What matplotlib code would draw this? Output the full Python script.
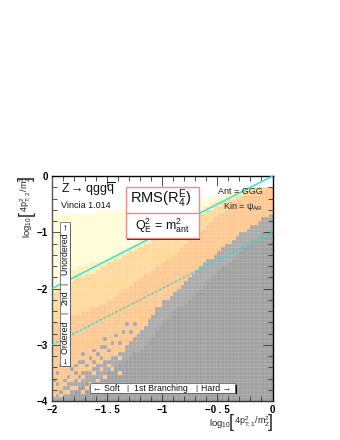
import matplotlib
matplotlib.use('Agg')
import matplotlib.pyplot as plt
from matplotlib.colors import ListedColormap
from matplotlib.patches import Rectangle
from matplotlib.ticker import MultipleLocator
import numpy as np

plt.rcParams['font.family'] = ['Liberation Sans', 'DejaVu Sans']
plt.rcParams['mathtext.fontset'] = 'custom'
plt.rcParams['mathtext.rm'] = 'Liberation Sans'
plt.rcParams['mathtext.it'] = 'Liberation Sans'
plt.rcParams['mathtext.default'] = 'regular'

# top row of each colour band, one value per column (60 x 60 bins)
darkGrey = [0,0,0,1,1,2,3,4,4,5,5,5,6,6,7,8,8,9,10,11,11,12,13,13,14,15,16,17,19,20,21,22,23,24,25,25,26,27,28,29,30,31,32,33,34,35,36,36,37,38,39,40,41,42,43,43,44,45,45,46]
lightGrey = [1,2,3,4,5,5,6,7,7,8,8,9,9,10,11,11,12,12,13,14,15,16,17,18,19,20,22,23,25,26,27,27,28,29,30,31,32,33,34,35,36,37,38,38,39,40,41,42,42,43,44,45,45,46,47,47,48,49,49,50]
orange = [21,21,21,22,22,23,23,23,24,24,25,25,25,26,26,27,27,28,29,30,30,31,32,32,33,34,34,35,36,36,37,38,39,39,40,41,42,43,43,44,45,46,47,48,49,50,50,51,52,53,54,54,55,55,55,56,56,56,57,57]
lightOrange = [29,30,30,31,32,32,33,33,33,34,34,34,35,36,36,37,37,38,38,39,39,40,40,41,41,42,42,43,43,44,44,45,46,46,47,47,48,48,49,49,50,50,51,51,52,52,53,53,54,54,55,55,56,56,56,57,57,57,57,57]
yellow = [30,31,32,33,34,35,35,36,36,36,37,37,37,37,38,38,39,39,40,40,41,41,42,42,43,43,44,44,45,45,46,47,47,48,48,49,49,50,50,51,51,52,52,53,53,54,54,55,55,55,56,56,56,57,57,57,57,57,57,57]
paleYellow = [50,50,50,50,50,50,50,50,50,50,50,50,51,51,51,51,51,51,51,51,51,51,52,52,52,52,52,52,52,52,52,53,53,53,53,53,53,53,53,54,54,54,54,55,55,55,55,56,56,56,56,56,57,57,57,57,57,57,57,57]

# isolated cells off the band edges (column, row)
greyCells = [(19,18),(17,17),(14,16),(12,12),(14,14),(15,13),(11,13),(7,10),(10,11),(10,7),(21,18),(22,20),(20,20),(5,8),(1,7),(0,5),(3,5),(9,9),(3,9),(6,7),(8,12),(2,9),(6,9),(8,10),(11,10),(12,9),(13,11),(4,6),(1,4),(6,5),(8,7),(16,15),(18,15),(13,14)]
orangeCells = [(29,25),(19,13),(18,11),(13,8),(15,9),(7,5),(5,3),(3,2),(9,3),(11,7),(8,6),(6,3),(4,2),(10,4),(12,5),(2,1),(8,2),(14,6),(16,8),(18,7)]

xEdges = np.linspace(-2, 0, 61)
yEdges = np.linspace(-4, 0, 61)

hist = np.full((60, 60), 6)
for col in range(60):
    for row in range(60):
        if row < darkGrey[col]:
            hist[row, col] = 0
        elif row < lightGrey[col]:
            hist[row, col] = 1
        elif row < orange[col]:
            hist[row, col] = 2
        elif row < lightOrange[col]:
            hist[row, col] = 3
        elif row < yellow[col]:
            hist[row, col] = 4
        elif row < paleYellow[col]:
            hist[row, col] = 5
for col, row in greyCells:
    hist[row, col] = 1
for col, row in orangeCells:
    hist[row, col] = 2

colours = ListedColormap(['#9c9c9c', '#a6a6a6', '#ffc68c', '#ffd898', '#ffeeb4', '#fffcd6', '#ffffff'])

figure = plt.figure(figsize=(3.4, 4.4), dpi=100)
ax = figure.add_axes([52 / 340, 1 - 401 / 440, 220.5 / 340, 225 / 440])
ax.pcolormesh(xEdges, yEdges, hist, cmap=colours, vmin=-0.5, vmax=6.5, edgecolors=(1, 1, 1, 0.08), linewidth=0.3)

ax.plot([-2, 0], [-2, 0], color='#19e6e6', linewidth=1.0, zorder=3)
ax.plot([-2, 0], [-3, -1], color='#19e6e6', linewidth=1.0, linestyle=(0, (2, 1.2)), zorder=3)

ax.set_xlim(-2, 0)
ax.set_ylim(-4, 0)
ax.set_xticks([-2, -1.5, -1, -0.5, 0])
ax.set_xticklabels(['\u22122', '\u22121 . 5', '\u22121', '\u22120 . 5', '0'], fontsize=7, fontweight='bold')
ax.set_yticks([-4, -3, -2, -1, 0])
ax.set_yticklabels(['\u22124', '\u22123', '\u22122', '\u22121', '0'], fontsize=7, fontweight='bold')
ax.xaxis.set_minor_locator(MultipleLocator(0.1))
ax.yaxis.set_minor_locator(MultipleLocator(0.2))
ax.tick_params(which='major', direction='in', length=7, width=0.6, top=True, right=True, pad=3, color='#333333')
ax.tick_params(which='minor', direction='in', length=3.5, width=0.6, top=True, right=True, color='#333333')
for spine in ax.spines.values():
    spine.set_linewidth(1.0)
ax.spines['left'].set_color('#555555')
ax.spines['bottom'].set_color('#333333')

# axis titles in pieces so the brackets can be tall
grey = '#222222'
figure.text(209 / 340, 1 - 423 / 440, r'log$_{10}$', ha='left', va='center', fontsize=6.8, color=grey)
figure.text(229 / 340, 1 - 422 / 440, '[', ha='left', va='center', fontsize=13, color=grey)
figure.text(234 / 340, 1 - 422 / 440, r'4p$_{T;1}^{2}$/m$_{Z}^{2}$', ha='left', va='center', fontsize=6.5, color=grey)
figure.text(268 / 340, 1 - 422 / 440, ']', ha='left', va='center', fontsize=13, color=grey)

figure.text(27 / 340, 1 - 238 / 440, r'log$_{10}$', ha='center', va='bottom', rotation=90, fontsize=6.8, color=grey)
figure.text(26 / 340, 1 - 216 / 440, '[', ha='center', va='bottom', rotation=90, fontsize=13, color=grey)
figure.text(26 / 340, 1 - 212 / 440, r'4p$_{T;2}^{2}$/m$_{Z}^{2}$', ha='center', va='bottom', rotation=90, fontsize=6.5, color=grey)
figure.text(26 / 340, 1 - 181 / 440, ']', ha='center', va='bottom', rotation=90, fontsize=13, color=grey)

ax.text(-1.92, -0.24, r'Z$\rightarrow$qgg$\overline{q}$', fontsize=9, va='center', color='#111111')
ax.text(-1.92, -0.53, 'Vincia 1.014', fontsize=6.5, va='center', color='#111111')
ax.text(-0.29, -0.27, 'Ant = GGG', fontsize=6.5, ha='center', va='center', color='#222222', zorder=4)
ax.text(-0.27, -0.55, r'Kin = $\psi_{AR}$', fontsize=6.5, ha='center', va='center', color='#222222', zorder=4)


def pixelBox(x0, y0, x1, y1, face, edge, zorder=5, lw=0.8):
    # rectangle given in figure pixels
    box = Rectangle((x0 / 340, 1 - y1 / 440), (x1 - x0) / 340, (y1 - y0) / 440, transform=figure.transFigure,
                    facecolor=face, edgecolor=edge, linewidth=lw, zorder=zorder, clip_on=False)
    ax.add_patch(box)


def pixelText(x, y, label, **kwargs):
    ax.text(x / 340, 1 - y / 440, label, transform=figure.transFigure, ha='center', va='center', zorder=8, color='#111111', **kwargs)


# main title box
pixelBox(127, 188, 200, 240, '#7a0a0a', 'none')
pixelBox(126, 187, 199, 238.5, 'white', '#f08a8a', zorder=6, lw=1.0)
ax.plot([126 / 340, 199 / 340], [1 - 213 / 440, 1 - 213 / 440], transform=figure.transFigure, color='#f08a8a', linewidth=1.0, zorder=7, clip_on=False)
pixelText(161, 199, r'RMS(R$_{4}^{E}$)', fontsize=10.5)
pixelText(162, 226, r'Q$_{E}^{2}$ = m$_{ant}^{2}$', fontsize=9)

# vertical label box
pixelBox(62, 224, 71, 367, 'black', 'none')
pixelBox(60, 222, 69.5, 365.5, 'white', '#555555', zorder=6, lw=0.5)
pixelText(65, 343, '\u2190 Ordered', fontsize=6.3, rotation=90)
pixelText(65, 313, '|', fontsize=6, rotation=90)
pixelText(65, 298, '2nd', fontsize=6.3, rotation=90)
pixelText(65, 284, '|', fontsize=6, rotation=90)
pixelText(65, 249, 'Unordered \u2192', fontsize=6.3, rotation=90)

# horizontal label box
pixelBox(92, 385, 237, 394, 'black', 'none')
pixelBox(90, 383, 235, 392.5, 'white', '#555555', zorder=6, lw=0.5)
pixelText(106, 388, '\u2190 Soft', fontsize=6.3)
pixelText(127, 388, '|', fontsize=6)
pixelText(161, 388, '1st Branching', fontsize=6.3)
pixelText(196, 388, '|', fontsize=6)
pixelText(216, 388, 'Hard \u2192', fontsize=6.3)

figure.savefig('out.png', dpi=100)
